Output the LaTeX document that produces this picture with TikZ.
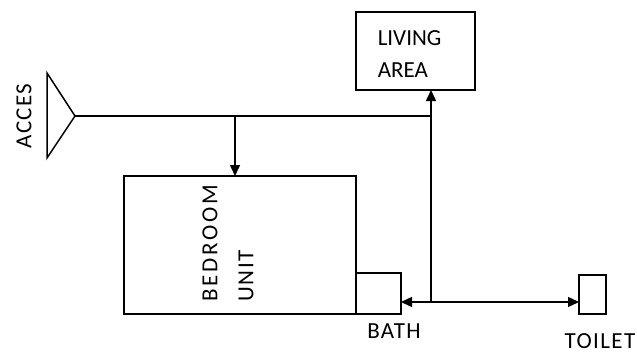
\documentclass[tikz,border=0pt]{standalone}
\usepackage{fontspec}
\setmainfont{Carlito}
\usetikzlibrary{arrows.meta, positioning}

\begin{document}
\begin{tikzpicture}[x=1pt, y=-1pt, font=\fontsize{23}{30}\selectfont, line width=1.5pt,
  room/.style={draw, inner sep=0pt, outer sep=0pt, anchor=north west},
  tag/.style={inner sep=0pt},
  wide/.style={tag, font=\fontsize{23}{30}\selectfont\addfontfeature{LetterSpace=6}},
  wider/.style={tag, font=\fontsize{23}{30}\selectfont\addfontfeature{LetterSpace=12}},
  flow/.style={-{Triangle[length=11pt,width=10pt]}},
  both/.style={{Triangle[length=11pt,width=10pt]}-{Triangle[length=11pt,width=10pt]}}]
  \useasboundingbox (0,0) rectangle (637,353);

  % Rooms
  \node[room, minimum width=119pt, minimum height=78pt] (living) at (356,12) {};
  \node[room, minimum width=232pt, minimum height=138pt] (bedroom) at (124,176) {};
  \node[room, minimum width=45pt, minimum height=41pt] (bath) at (356,273) {};
  \node[room, minimum width=27pt, minimum height=39pt] (toilet) at (579,275) {};

  % Entrance
  \draw (47,73) -- (47,158) -- (75,116) -- cycle;
  \coordinate (acces) at (75,116);
  \node[wide, rotate=90] (accestxt) at (24,116) {ACCES};

  % Labels
  \node[tag, anchor=west] (livingtxt) at (377,38) {LIVING};
  \node[tag, anchor=west] (areatxt) at (377,70) {AREA};
  \node[wider, rotate=90, anchor=west] (bedtxt) at (210,302) {BEDROOM};
  \node[wide, rotate=90, anchor=west] (unittxt) at (246,302) {UNIT};
  \node[wide] (bathtxt) at (394,331) {BATH};
  \node[wide] (toilettxt) at (600,341) {TOILET};

  % Circulation
  \coordinate (drop) at (235,116);
  \coordinate (join) at (431,116);
  \coordinate (hub) at (431,302);
  \draw (acces) -- (join);
  \draw[flow] (drop) -- (drop |- bedroom.north);
  \draw[flow] (hub) -- (hub |- living.south);
  \draw[both] (bath.east |- hub) -- (toilet.west |- hub);
\end{tikzpicture}
\end{document}
